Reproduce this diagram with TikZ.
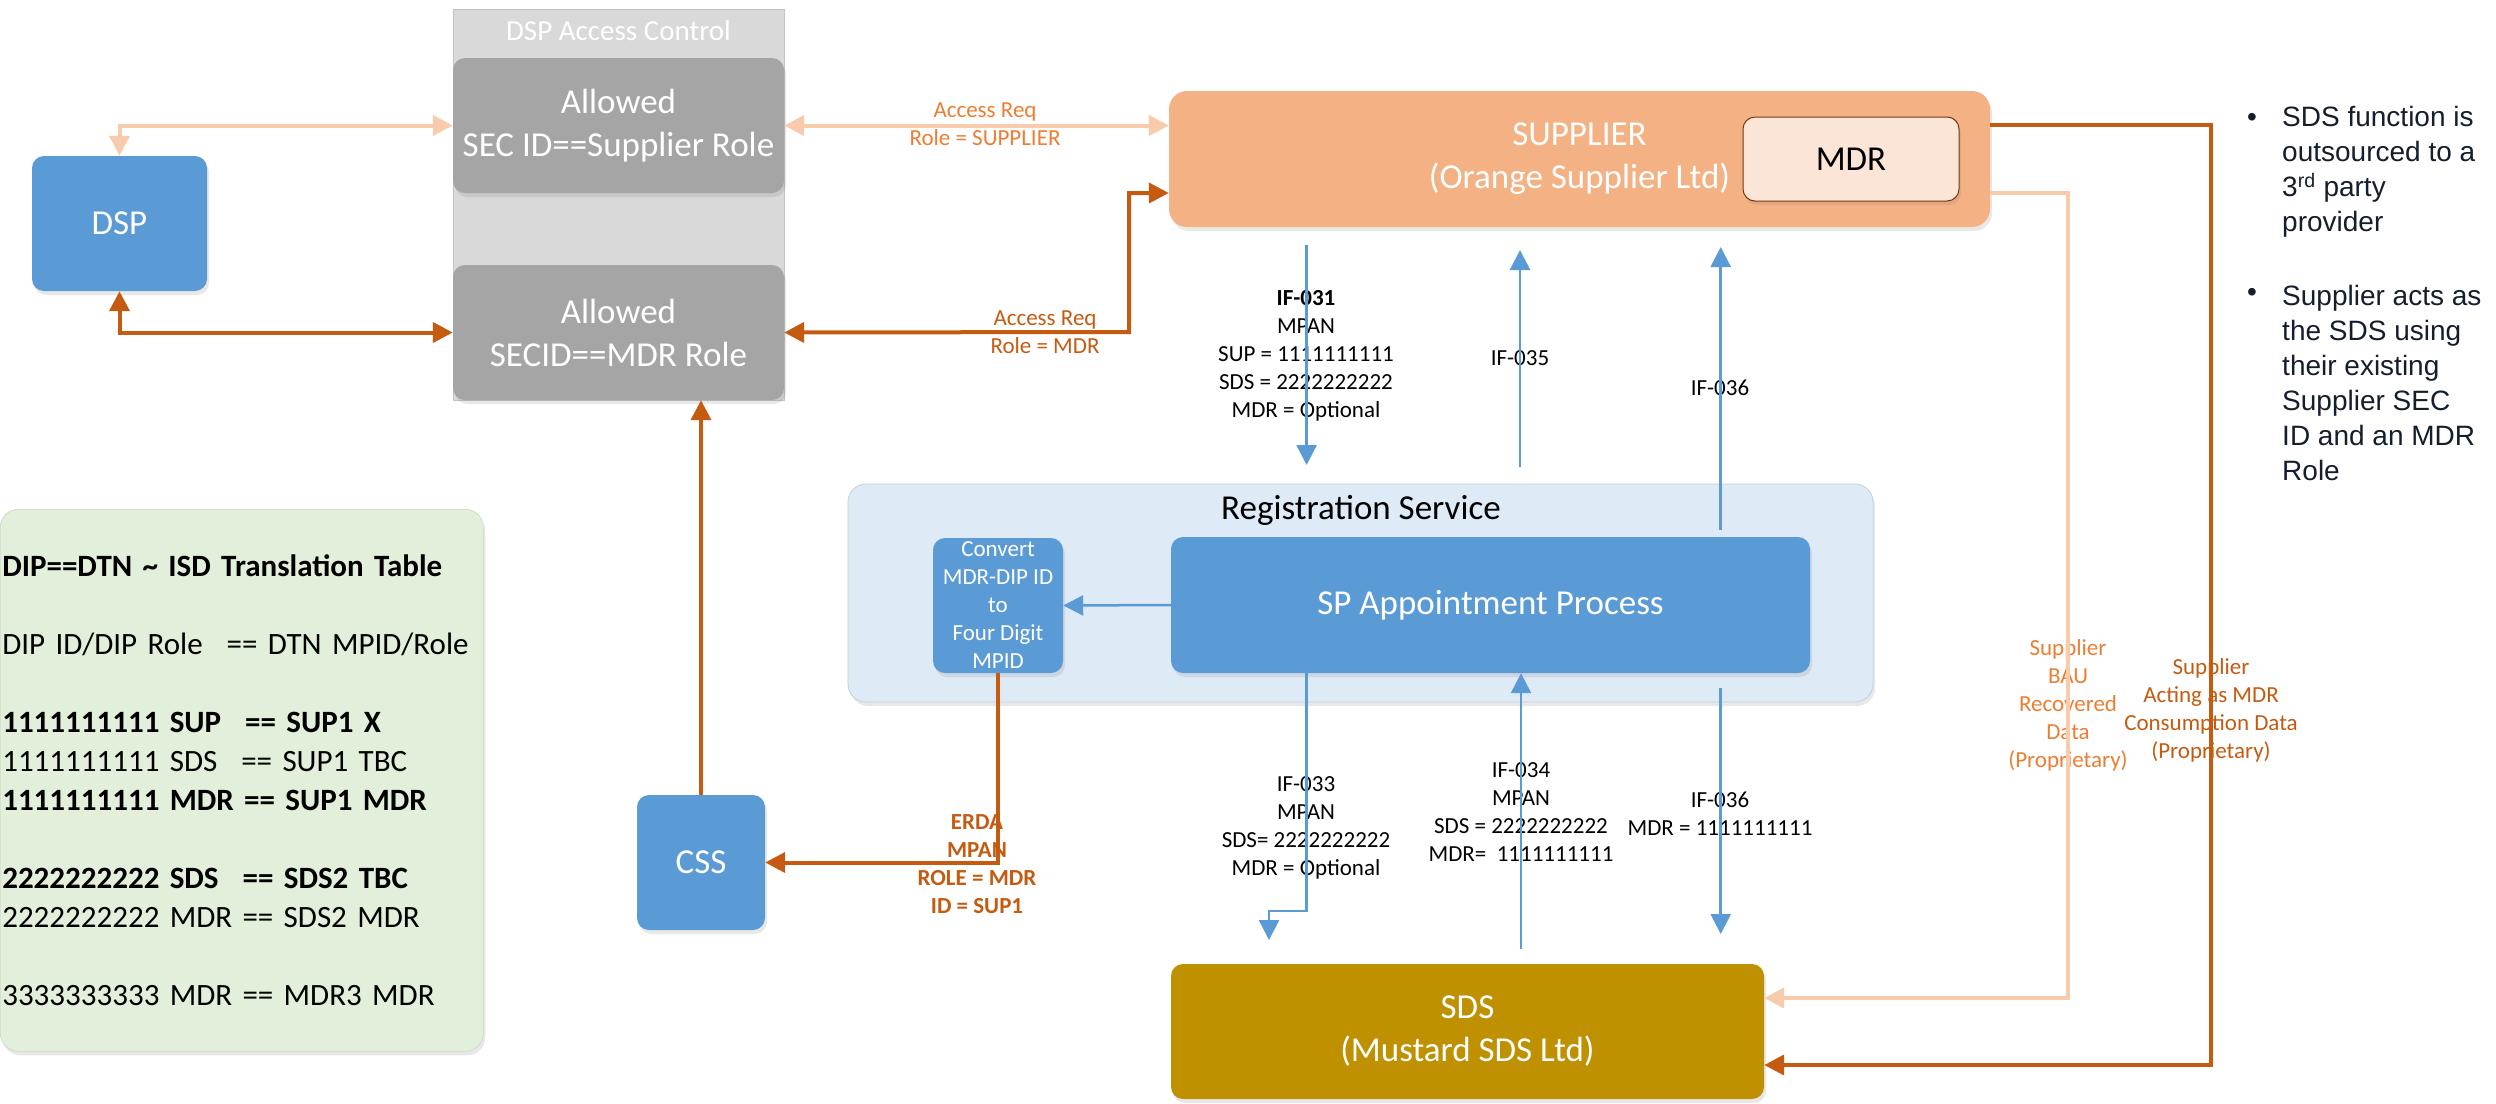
\documentclass[tikz,border=0pt]{standalone}
\usepackage{fontspec}
\setmainfont{Carlito}
\newfontfamily\notefont{Liberation Sans}
\usetikzlibrary{positioning,arrows.meta,shadows}
\definecolor{boxblue}{HTML}{5B9BD5}
\definecolor{boxgray}{HTML}{A5A5A5}
\definecolor{aclgray}{HTML}{D9D9D9}
\definecolor{supfill}{HTML}{F4B183}
\definecolor{mdrfill}{HTML}{FBE5D6}
\definecolor{sdsfill}{HTML}{BF9000}
\definecolor{regfill}{HTML}{DEEBF7}
\definecolor{tblfill}{HTML}{E2EFDA}
\definecolor{darkor}{HTML}{C55A11}
\definecolor{midor}{HTML}{ED7D31}
\definecolor{lightor}{HTML}{F8CBAD}
\definecolor{notetext}{HTML}{141E2C}
\tikzset{
	>={Triangle[length=20pt,width=20pt]}
}

\begin{document}
\begin{tikzpicture}[
	x = 1pt, y = -1pt,
	every node/.style = {
		font = \fontsize{23}{28}\selectfont
	},
	box/.style = {
		rounded corners = 12pt,
		inner sep = 0pt,
		align = center,
		text = white,
		font = \fontsize{35}{43}\selectfont,
		drop shadow = {shadow xshift=2pt, shadow yshift=-4pt, opacity=0.18}
	},
	bluebox/.style = {box, fill=boxblue},
	graybox/.style = {box, fill=boxgray},
	lbl/.style = {align=center, inner sep=0pt},
	darkline/.style = {draw=darkor, line width=4pt},
	lightline/.style = {draw=lightor, line width=4pt},
	ifline/.style = {draw=boxblue, line width=2.5pt, ->}
	]

	\useasboundingbox (0,0) rectangle (2496,1103);

	% access control
	\node[fill=aclgray, draw=aclgray!90!black, line width=0.8pt, minimum width=331pt, minimum height=391pt, inner sep=0pt] (acl) at (618.5,204.5) {};
	\node[text=white, font=\fontsize{29}{35}\selectfont] (acltitle) at (618.5,31) {DSP Access Control};
	\node[graybox, minimum width=331pt, minimum height=135pt] (allowsup) at (618.5,125.5) {Allowed\\SEC ID==Supplier Role};
	\node[graybox, minimum width=331pt, minimum height=135pt] (allowmdr) at (618.5,332.5) {Allowed\\SECID==MDR Role};

	\node[bluebox, minimum width=175pt, minimum height=135pt] (dsp) at (119.5,223.5) {DSP};
	\node[bluebox, minimum width=128pt, minimum height=135pt] (css) at (701,862.5) {CSS};

	% supplier and sds
	\node[box, fill=supfill, rounded corners=18pt, minimum width=821pt, minimum height=136pt] (supplier) at (1579.5,159) {SUPPLIER\\(Orange Supplier Ltd)};
	\node[box, fill=mdrfill, draw=darkor!60!black, line width=1pt, text=black, minimum width=216pt, minimum height=84pt] (mdr) at (1851,159) {MDR};
	\node[box, fill=sdsfill, minimum width=593pt, minimum height=135pt] (sds) at (1467.5,1031.5) {SDS\\(Mustard SDS Ltd)};

	% registration service
	\node[box, fill=regfill, draw=regfill!88!black, line width=0.8pt, rounded corners=18pt, minimum width=1025pt, minimum height=218pt] (regsvc) at (1360.5,593) {};
	\node[font=\fontsize{35}{43}\selectfont] (regtitle) at (1361,510) {Registration Service};
	\node[bluebox, minimum width=639pt, minimum height=136pt] (spap) at (1490.5,605) {SP Appointment Process};
	\node[bluebox, font=\fontsize{23}{28}\selectfont, minimum width=130pt, minimum height=135pt] (convert) at (998,605.5) {Convert\\MDR-DIP ID\\to\\Four Digit\\MPID};

	% translation table
	\node[fill=tblfill, draw=tblfill!90!black, line width=0.6pt, rounded corners=18pt, anchor=north west, minimum height=542pt, text width=479pt, inner xsep=2pt, align=left, font=\fontsize{31}{39}\selectfont, drop shadow={shadow xshift=2pt, shadow yshift=-4pt, opacity=0.18}] (table) at (0,509) {%
		\textbf{DIP==DTN \textasciitilde{} ISD Translation Table}\\[39pt]
		DIP ID/DIP Role\hspace{24pt}== DTN MPID/Role\\[39pt]
		\textbf{1111111111 SUP\hspace{24pt}== SUP1 X}\\
		1111111111 SDS\hspace{24pt}== SUP1 TBC\\
		\textbf{1111111111 MDR == SUP1 MDR}\\[39pt]
		\textbf{2222222222 SDS\hspace{24pt}== SDS2 TBC}\\
		2222222222 MDR == SDS2 MDR\\[39pt]
		3333333333 MDR == MDR3 MDR};

	% notes
	\node[text=notetext, font=\notefont\fontsize{28}{35}\selectfont, inner sep=0pt] (dot1) at (2252,120) {•};
	\node[text=notetext, font=\notefont\fontsize{28}{35}\selectfont, inner sep=0pt] (dot2) at (2252,295) {•};
	\node[text=notetext, font=\notefont\fontsize{28}{35}\selectfont, align=left, inner sep=0pt, anchor=west] (note1) at (2282,172) {SDS function is\\outsourced to a\\3\textsuperscript{rd} party\\provider};
	\node[text=notetext, font=\notefont\fontsize{28}{35}\selectfont, align=left, inner sep=0pt, anchor=west] (note2) at (2282,382.5) {Supplier acts as\\the SDS using\\their existing\\Supplier SEC\\ID and an MDR\\Role};

	% labels
	\node[lbl, text=midor] (accsup) at (985,124.5) {Access Req\\Role = SUPPLIER};
	\node[lbl, text=darkor] (accmdr) at (1045,332) {Access Req\\Role = MDR};
	\node[lbl, text=darkor, font=\bfseries\fontsize{23}{28}\selectfont] (erda) at (977,864) {ERDA\\MPAN\\ROLE = MDR\\ID = SUP1};
	\node[lbl] (if031) at (1306,356) {\textbf{IF-031}\\MPAN\\SUP = 1111111111\\SDS = 2222222222\\MDR = Optional};
	\node[lbl] (if035) at (1520,358) {IF-035};
	\node[lbl] (if036up) at (1720,388) {IF-036};
	\node[lbl] (if033) at (1306,828) {IF-033\\MPAN\\SDS= 2222222222\\MDR = Optional};
	\node[lbl] (if034) at (1521,812) {IF-034\\MPAN\\SDS = 2222222222\\MDR=~~1111111111};
	\node[lbl] (if036dn) at (1720,814) {IF-036\\MDR = 1111111111};
	\node[lbl, text=midor] (bau) at (2068,705) {Supplier\\BAU\\Recovered\\Data\\(Proprietary)};
	\node[lbl, text=darkor] (consump) at (2211,710) {Supplier\\Acting as MDR\\Consumption Data\\(Proprietary)};

	% bend points
	\coordinate (mdrbend) at (1129,332);
	\coordinate (baubend) at (2068,998);
	\coordinate (consbend) at (2211,1065);
	\coordinate (if031s) at (1306.6,245);
	\coordinate (if031e) at (1306.6,465);
	\coordinate (if035s) at (1520,467);
	\coordinate (if035e) at (1520,250);
	\coordinate (if036s) at (1720.7,530);
	\coordinate (if036e) at (1720.7,247);
	\coordinate (if033bend) at (1269,911);
	\coordinate (if033e) at (1269,940);
	\coordinate (if034s) at (1521,949);
	\coordinate (if036t) at (1720.7,688);
	\coordinate (if036b) at (1720.7,934);

	% access links
	\draw[lightline, <->] (dsp.north) |- (allowsup.west);
	\draw[lightline, <->] (allowsup.east) -- (allowsup.east -| supplier.west);
	\draw[darkline, <->] (dsp.south) |- (allowmdr.west);
	\draw[darkline, <->] (allowmdr.east) -- (mdrbend) |- ([yshift=-34pt]supplier.west);
	\draw[darkline, ->] (css.north) -- (css.north |- allowmdr.south);
	\draw[darkline, ->] (convert.south) |- (css.east);
	\draw[darkline, ->] ([yshift=34pt]supplier.east) -| (consbend) -- (consbend -| sds.east);
	\draw[lightline, ->] ([yshift=-34pt]supplier.east) -| (baubend) -- (baubend -| sds.east);

	% interfaces
	\draw[ifline] (spap.west) -- (convert.east);
	\draw[ifline] (if031s) -- (if031e);
	\draw[ifline] (if035s) -- (if035e);
	\draw[ifline] (if036s) -- (if036e);
	\draw[ifline] (spap.south -| if031s) |- (if033bend) -- (if033e);
	\draw[ifline] (if034s) -- (if034s |- spap.south);
	\draw[ifline] (if036t) -- (if036b);

\end{tikzpicture}
\end{document}
